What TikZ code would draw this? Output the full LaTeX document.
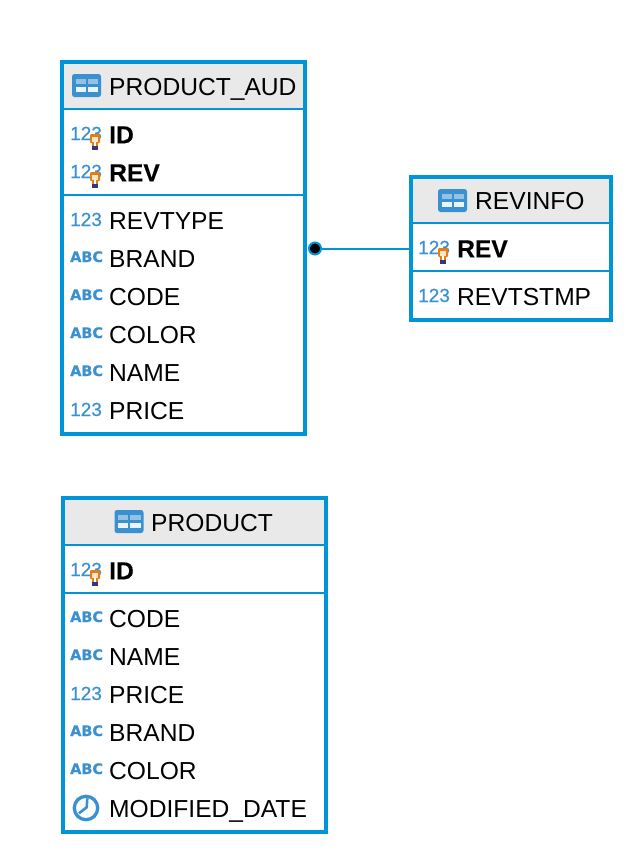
\documentclass[tikz,border=0pt]{standalone}
\usepackage{fontspec}
\setmainfont{Liberation Sans}
\newfontfamily\abcfont[FakeBold=.6]{DejaVu Sans}
\newfontfamily\numfont[FakeBold=.5]{Liberation Sans}
\newfontfamily\keyfont[FakeBold=.4]{Liberation Sans Bold}
\definecolor{boxblue}{HTML}{0095D6}
\definecolor{iconblue}{HTML}{3B90CF}
\definecolor{headgray}{HTML}{E9E9E9}
\definecolor{keyorange}{HTML}{E07F12}
\tikzset{
  tablebox/.style={draw=boxblue,line width=4pt,inner sep=0pt,outer sep=0pt,anchor=north west},
  headfill/.style={fill=headgray,draw=none,inner sep=0pt,outer sep=0pt,anchor=north west},
  sepline/.style={draw=boxblue,line width=2pt},
  colname/.style={anchor=base west,inner sep=0pt,yshift=.7pt,font=\fontsize{24.6}{30}\selectfont},
  keyname/.style={colname,font=\fontsize{24.6}{30}\keyfont},
  numtype/.style={anchor=base west,inner sep=0pt,text=iconblue,font=\fontsize{19}{22}\numfont},
  abctype/.style={anchor=base west,inner sep=0pt,text=iconblue,font=\fontsize{14.5}{18}\abcfont\bfseries},
  keyicon/.pic={
    \fill[keyorange,rounded corners=1pt] (-5,0) rectangle (5,9);
    \fill[orange!20!white] (-3.4,3) rectangle (3.4,7.5);
    \fill[keyorange] (-2.8,8) rectangle (2.8,12);
    \fill[white] (-.8,8) rectangle (.8,12);
    \fill[gray!60!blue!70!black] (-2.6,12) rectangle (2.6,16);
  },
  tableicon/.pic={
    \fill[iconblue,rounded corners=2.5pt] (-14.5,-11.5) rectangle (14.5,11.5);
    \fill[iconblue!55!white] (-11,-6.5) rectangle (-1,-1.5);
    \fill[iconblue!55!white] (1,-6.5) rectangle (11.5,-1.5);
    \fill[white!90!iconblue] (-11,1) rectangle (-1,6.5);
    \fill[white!90!iconblue] (1,1) rectangle (11.5,6.5);
  },
  clockicon/.pic={
    \draw[iconblue,line width=3.3pt] (0,0) circle (11.7);
    \draw[iconblue,line width=2.6pt] (-7,5.3) -- (.7,-.7) -- (1.3,-9.7);
  }
}
\begin{document}
\begin{tikzpicture}[x=1pt,y=-1pt]
  \useasboundingbox (0,0) rectangle (634,854);

  % audit table
  \node[headfill,minimum width=243pt,minimum height=47pt] (AUDhead) at (62,62) {};
  \node[tablebox,minimum width=243pt,minimum height=372pt] (AUD) at (62,62) {};
  \draw[sepline] (62,109) -- (305,109);
  \draw[sepline] (62,195) -- (305,195);
  \pic at (86.5,85.5) {tableicon};
  \node[colname] (AUDtitle) at (109,96) {PRODUCT\_AUD};
  \node[numtype] (AUDt1) at (70,140) {123};
  \pic at (95,134) {keyicon};
  \node[keyname] (AUDid) at (109,144) {ID};
  \node[numtype] (AUDt2) at (70,178) {123};
  \pic at (95,172) {keyicon};
  \node[keyname] (AUDrev) at (109,182) {REV};
  \node[numtype] (AUDt3) at (70,226) {123};
  \node[colname] (AUDtype) at (109,230) {REVTYPE};
  \node[abctype] (AUDt4) at (70,262) {ABC};
  \node[colname] (AUDbrand) at (109,268) {BRAND};
  \node[abctype] (AUDt5) at (70,300) {ABC};
  \node[colname] (AUDcode) at (109,306) {CODE};
  \node[abctype] (AUDt6) at (70,338) {ABC};
  \node[colname] (AUDcolor) at (109,344) {COLOR};
  \node[abctype] (AUDt7) at (70,376) {ABC};
  \node[colname] (AUDname) at (109,382) {NAME};
  \node[numtype] (AUDt8) at (70,416) {123};
  \node[colname] (AUDprice) at (109,420) {PRICE};

  % revision table
  \node[headfill,minimum width=200pt,minimum height=47pt] (REVhead) at (411,177) {};
  \node[tablebox,minimum width=200pt,minimum height=143pt] (REV) at (411,177) {};
  \draw[sepline] (411,223) -- (611,223);
  \draw[sepline] (411,271) -- (611,271);
  \pic at (452.5,200.5) {tableicon};
  \node[colname] (REVtitle) at (475,210) {REVINFO};
  \node[numtype] (REVt1) at (418,254) {123};
  \pic at (443,248) {keyicon};
  \node[keyname] (REVrev) at (457,258) {REV};
  \node[numtype] (REVt2) at (418,302) {123};
  \node[colname] (REVstamp) at (457,306) {REVTSTMP};

  % product table
  \node[headfill,minimum width=263pt,minimum height=47pt] (PRDhead) at (63,498) {};
  \node[tablebox,minimum width=263pt,minimum height=334pt] (PRD) at (63,498) {};
  \draw[sepline] (63,545) -- (326,545);
  \draw[sepline] (63,593) -- (326,593);
  \pic at (129,521.5) {tableicon};
  \node[colname] (PRDtitle) at (151,532) {PRODUCT};
  \node[numtype] (PRDt1) at (70,576) {123};
  \pic at (95,570) {keyicon};
  \node[keyname] (PRDid) at (109,580) {ID};
  \node[abctype] (PRDt2) at (70,622) {ABC};
  \node[colname] (PRDcode) at (109,628) {CODE};
  \node[abctype] (PRDt3) at (70,660) {ABC};
  \node[colname] (PRDname) at (109,666) {NAME};
  \node[numtype] (PRDt4) at (70,700) {123};
  \node[colname] (PRDprice) at (109,704) {PRICE};
  \node[abctype] (PRDt5) at (70,736) {ABC};
  \node[colname] (PRDbrand) at (109,742) {BRAND};
  \node[abctype] (PRDt6) at (70,774) {ABC};
  \node[colname] (PRDcolor) at (109,780) {COLOR};
  \pic at (86,808) {clockicon};
  \node[colname] (PRDdate) at (109,818) {MODIFIED\_DATE};

  % relation
  \node[circle,fill=black,draw=boxblue,line width=2pt,minimum size=12pt,inner sep=0pt] (dot) at (315,248.5) {};
  \path[draw=boxblue,line width=2pt] (dot) edge (REV.west);
\end{tikzpicture}
\end{document}
